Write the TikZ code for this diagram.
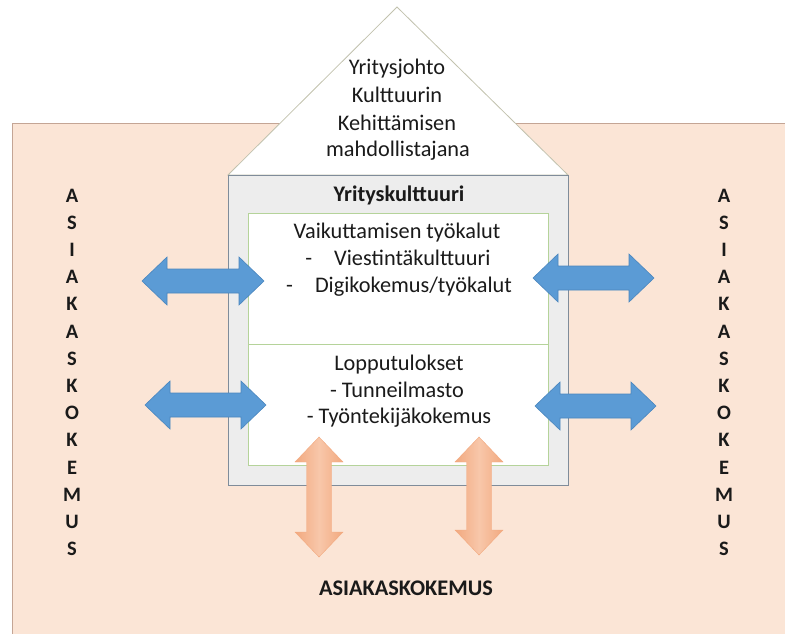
\documentclass[tikz,border=0pt]{standalone}
\usepackage{fontspec}
\setmainfont{Carlito}
\definecolor{peach}{HTML}{FBE5D6}
\definecolor{peachline}{HTML}{C4A595}
\definecolor{triline}{HTML}{C2C2AE}
\definecolor{grayfill}{HTML}{EDEDED}
\definecolor{grayline}{HTML}{7F8C9A}
\definecolor{greenline}{HTML}{B5D39A}
\definecolor{arrblue}{HTML}{5B9BD5}
\definecolor{arrblueD}{HTML}{4A86BE}
\definecolor{orA}{HTML}{F2A97F}
\definecolor{orB}{HTML}{F8C7AA}
\definecolor{txt}{HTML}{1A1A1A}
\tikzset{
  bodytext/.style={anchor=base, inner sep=0pt, text=txt, font=\fontsize{22.3}{26.5}\selectfont},
  boldtext/.style={bodytext, font=\fontsize{22.3}{26.5}\selectfont\bfseries},
  sidechar/.style={anchor=base, inner sep=0pt, text=txt, font=\fontsize{20.5}{24}\selectfont\bfseries},
  bluearr/.style={fill=arrblue, draw=arrblueD, line width=0.6pt},
  orarr/.style={left color=orA, right color=orA, middle color=orB, draw=orA, line width=0.4pt},
}
\newcommand\hdarr[4]{%
  \path[#1] (#2,#4) -- (#2+25,#4-24) -- (#2+25,#4-12) -- (#3-25,#4-12) -- (#3-25,#4-24)
   -- (#3,#4) -- (#3-25,#4+24) -- (#3-25,#4+12) -- (#2+25,#4+12) -- (#2+25,#4+24) -- cycle;}
\newcommand\vdarr[4]{%
  \path[#1] (#2,#3) -- (#2+24,#3+25) -- (#2+12.5,#3+25) -- (#2+12.5,#4-25) -- (#2+24,#4-25)
   -- (#2,#4) -- (#2-24,#4-25) -- (#2-12.5,#4-25) -- (#2-12.5,#3+25) -- (#2-24,#3+25) -- cycle;}
\begin{document}
\begin{tikzpicture}[x=1pt,y=-1pt]
\useasboundingbox (0,0) rectangle (785,633);
\clip (0,0) rectangle (785,633);
% background
\path[fill=peach, draw=peachline, line width=0.8pt] (12,123) rectangle (800,650);
% roof
\path[fill=white, draw=triline, line width=0.8pt] (397,7) -- (568,175) -- (228,175) -- cycle;
\node[bodytext] (r1) at (397,74) {Yritysjohto};
\node[bodytext] (r2) at (397,102) {Kulttuurin};
\node[bodytext] (r3) at (397,130) {Kehittämisen};
\node[bodytext] (r4) at (398,156) {mahdollistajana};
% house body
\path[fill=grayfill, draw=grayline, line width=0.9pt] (228,175) rectangle (568,485);
\path[fill=white, draw=greenline, line width=0.8pt] (248,213) rectangle (548,344);
\path[fill=white, draw=greenline, line width=0.8pt] (248,344) rectangle (548,465);
\node[boldtext] (yk) at (399,201) {Yrityskulttuuri};
\node[bodytext] (v0) at (397,238) {Vaikuttamisen työkalut};
\node[bodytext] (v1) at (398,265) {-\hspace{22pt}Viestintäkulttuuri};
\node[bodytext] (v2) at (399,292) {-\hspace{22pt}Digikokemus/työkalut};
\node[bodytext] (l0) at (399,370) {Lopputulokset};
\node[bodytext] (l1) at (397,397) {- Tunneilmasto};
\node[bodytext] (l2) at (399,423) {- Työntekijäkokemus};
% side labels
\foreach \ch [count=\i] in {A,S,I,A,K,A,S,K,O,K,E,M,U,S} {
  \node[sidechar] (sl\i) at (72,{202+27.2*(\i-1)}) {\ch};
  \node[sidechar] (sr\i) at (724,{202+27.2*(\i-1)}) {\ch};
}
\node[boldtext] (bot) at (406,595) {ASIAKASKOKEMUS};
% arrows
\hdarr{bluearr}{142}{264}{281}
\hdarr{bluearr}{145}{266}{405}
\hdarr{bluearr}{533}{654}{278}
\hdarr{bluearr}{535}{656}{406}
\vdarr{orarr}{319}{437}{557}
\vdarr{orarr}{479}{437}{555}
\end{tikzpicture}
\end{document}
